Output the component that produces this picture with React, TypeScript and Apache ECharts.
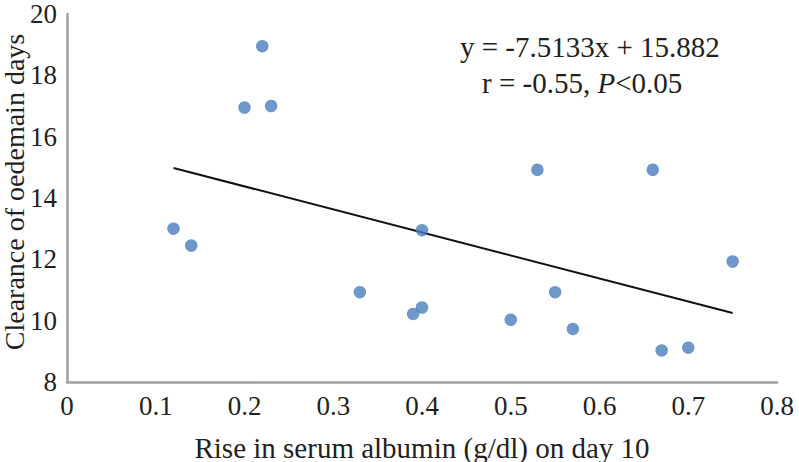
import React, { useEffect, useRef } from "react";
import * as echarts from "echarts";

const riseAlbumin = [0.12, 0.14, 0.2, 0.22, 0.23, 0.33, 0.39, 0.4, 0.4, 0.5, 0.53, 0.55, 0.57, 0.66, 0.67, 0.7, 0.75];
const clearanceDays = [13.0, 12.45, 16.95, 18.95, 17.0, 10.93, 10.22, 10.43, 12.95, 10.03, 14.92, 10.93, 9.73, 14.92, 9.03, 9.12, 11.93];
const trendSlope = -7.5133;
const trendIntercept = 15.882;
const xTicks = [0, 0.1, 0.2, 0.3, 0.4, 0.5, 0.6, 0.7, 0.8];
const yTicks = [8, 10, 12, 14, 16, 18, 20];
const xTitle = "Rise in serum albumin (g/dl) on day 10";
const yTitle = "Clearance of oedemain days";

const FONT = "'Liberation Serif', 'Times New Roman', serif";
const INK = "#231f20";

export default function App() {
  const ref = useRef<HTMLDivElement>(null);
  useEffect(() => {
    if (!ref.current) return;
    const chart = echarts.init(ref.current, undefined, { renderer: "svg" });
    const points = riseAlbumin.map((x, i) => [x, clearanceDays[i]]);
    const xMin = Math.min(...riseAlbumin);
    const xMax = Math.max(...riseAlbumin);
    const trend = [
      [xMin, trendSlope * xMin + trendIntercept],
      [xMax, trendSlope * xMax + trendIntercept],
    ];
    chart.setOption({
      animation: false,
      backgroundColor: "#ffffff",
      textStyle: { fontFamily: FONT, color: INK },
      grid: { left: 67, right: 22, top: 14, bottom: 80, containLabel: false, outerBoundsMode: "none" },
      xAxis: {
        type: "value",
        min: xTicks[0],
        max: xTicks[xTicks.length - 1],
        interval: 0.1,
        name: xTitle,
        nameLocation: "middle",
        nameGap: 51,
        nameTextStyle: { fontFamily: FONT, fontSize: 29, color: INK },
        axisLine: { show: true, lineStyle: { color: "#a0a0a0", width: 2.5 } },
        axisTick: { show: false },
        splitLine: { show: false },
        axisLabel: {
          fontFamily: FONT,
          fontSize: 27,
          color: INK,
          margin: 10,
          formatter: (v: number) => String(Math.round(v * 10) / 10),
        },
      },
      yAxis: {
        type: "value",
        min: yTicks[0],
        max: yTicks[yTicks.length - 1],
        interval: 2,
        axisLine: { show: true, lineStyle: { color: "#a0a0a0", width: 2.5 } },
        axisTick: { show: false },
        splitLine: { show: false },
        axisLabel: { fontFamily: FONT, fontSize: 27, color: INK, margin: 10 },
      },
      series: [
        {
          type: "scatter",
          data: points,
          symbol: "circle",
          symbolSize: 12.5,
          itemStyle: { color: "#4a7ebb" },
          z: 3,
        },
        {
          type: "line",
          data: trend,
          symbol: "none",
          lineStyle: { color: "#111111", width: 2 },
          z: 2,
        },
      ],
      graphic: [
        {
          type: "text",
          x: 14,
          y: 192,
          rotation: Math.PI / 2,
          style: {
            text: yTitle,
            fontFamily: FONT,
            fontSize: 28,
            fill: INK,
            align: "center",
            verticalAlign: "middle",
          },
        },
        {
          type: "text",
          left: 460,
          top: 32,
          style: {
            text: "y = -7.5133x + 15.882",
            fontFamily: FONT,
            fontSize: 29,
            fill: INK,
          },
        },
        {
          type: "text",
          left: 482,
          top: 68,
          style: {
            text: "{n|r = -0.55, }{i|P}{n|<0.05}",
            fontFamily: FONT,
            fontSize: 29,
            fill: INK,
            rich: {
              n: { fontFamily: FONT, fontSize: 29, fill: INK },
              i: { fontFamily: FONT, fontSize: 29, fontStyle: "italic", fill: INK },
            },
          },
        },
      ],
    });
    return () => chart.dispose();
  }, []);
  return (
    <div
      ref={ref}
      style={{ position: "fixed", left: 0, top: 0, width: 799, height: 462 }}
    />
  );
}
